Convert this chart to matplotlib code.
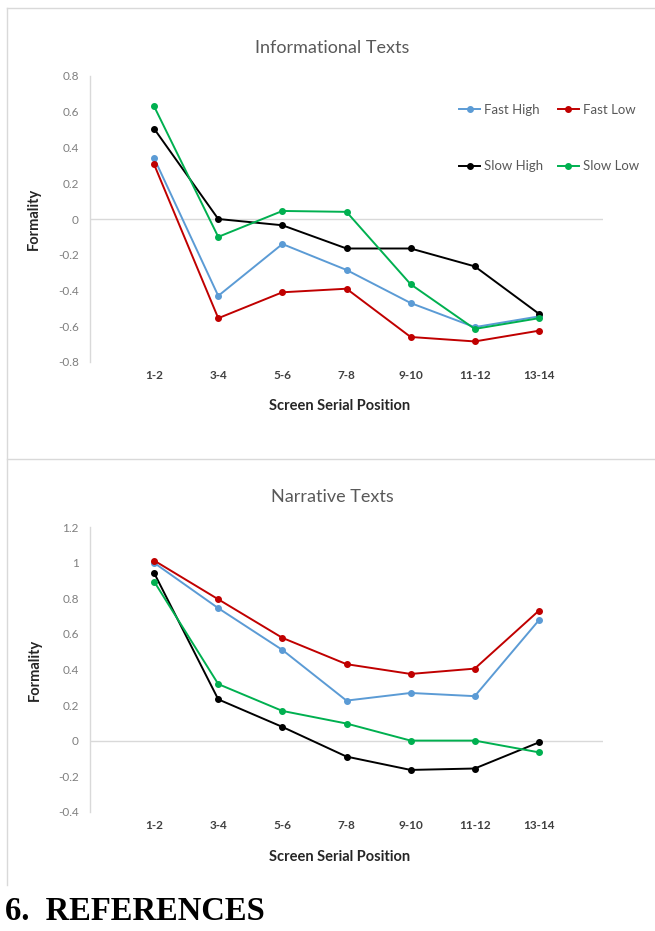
import matplotlib.pyplot as plt
from matplotlib.lines import Line2D

plt.rcParams['font.family'] = ['Lato', 'DejaVu Sans']

# Données
positions = ['1-2', '3-4', '5-6', '7-8', '9-10', '11-12', '13-14']

info_fast_high = [0.34, -0.43, -0.14, -0.285, -0.47, -0.605, -0.545]
info_fast_low = [0.305, -0.555, -0.41, -0.39, -0.66, -0.685, -0.625]
info_slow_high = [0.505, 0.0, -0.035, -0.165, -0.165, -0.265, -0.53]
info_slow_low = [0.63, -0.10, 0.045, 0.04, -0.365, -0.615, -0.555]

narr_fast_high = [1.0, 0.745, 0.51, 0.225, 0.268, 0.25, 0.677]
narr_fast_low = [1.013, 0.795, 0.578, 0.43, 0.375, 0.405, 0.731]
narr_slow_high = [0.943, 0.232, 0.077, -0.09, -0.165, -0.157, -0.01]
narr_slow_low = [0.895, 0.318, 0.167, 0.096, 0.0, 0.0, -0.066]

series_names = ['Fast High', 'Fast Low', 'Slow High', 'Slow Low']
colors = ['#5b9bd5', '#c00000', '#000000', '#00b050']

fig = plt.figure(figsize=(6.55, 9.31), dpi=100)

# cadres des deux graphiques
frame_col = '#d9d9d9'
fig.add_artist(Line2D([7/655, 7/655], [1 - 8/931, 1 - 885/931], color=frame_col, lw=1))
fig.add_artist(Line2D([7/655, 1], [1 - 8/931, 1 - 8/931], color=frame_col, lw=1))
fig.add_artist(Line2D([7/655, 1], [1 - 459/931, 1 - 459/931], color=frame_col, lw=1))


def draw_panel(ax, data, title, ylim, step, title_y, xlabel_y):
    x = list(range(1, len(positions) + 1))
    for vals, c in zip(data, colors):
        ax.plot(x, vals, color=c, lw=1.4, marker='o', markersize=4)
    ax.set_xlim(0, 8)
    ax.set_ylim(*ylim)
    ax.axhline(0, color='#d9d9d9', lw=1, zorder=0)
    for s in ['top', 'right', 'bottom']:
        ax.spines[s].set_visible(False)
    ax.spines['left'].set_color('#d9d9d9')
    ax.spines['left'].set_linewidth(1)
    ticks = []
    v = ylim[0]
    while v <= ylim[1] + 1e-9:
        ticks.append(round(v, 1))
        v += step
    ax.set_yticks(ticks)
    ax.set_yticklabels(['0' if t == 0 else ('1' if t == 1 else f'{t:g}') for t in ticks],
                       color='#7f7f7f', fontsize=8.5)
    ax.set_xticks(x)
    ax.set_xticklabels(positions, color='#404040', fontsize=8.5, fontweight='bold')
    ax.tick_params(length=0, pad=8)
    ax.tick_params(axis='x', pad=6)
    ax.set_ylabel('Formality', color='#262626', fontsize=10.5, fontweight='bold', labelpad=12)
    fig.text(332/655, 1 - title_y/931, title, ha='center', va='center',
             color='#595959', fontsize=13)
    fig.text(340/655, 1 - xlabel_y/931, 'Screen Serial Position', ha='center', va='center',
             color='#262626', fontsize=10.5, fontweight='bold')


ax1 = fig.add_axes([90/655, 1 - 362/931, 513/655, 286/931])
draw_panel(ax1, [info_fast_high, info_fast_low, info_slow_high, info_slow_low],
           'Informational Texts', (-0.8, 0.8), 0.2, 48, 406)

ax2 = fig.add_axes([90/655, 1 - 811.7/931, 513/655, 284.4/931])
draw_panel(ax2, [narr_fast_high, narr_fast_low, narr_slow_high, narr_slow_low],
           'Narrative Texts', (-0.4, 1.2), 0.2, 497, 857)

# légende du premier graphique (remplissage par colonnes)
handles = [Line2D([0], [0], color=c, lw=1.4, marker='o', markersize=4) for c in colors]
order = [0, 2, 1, 3]
fig.legend([handles[i] for i in order], [series_names[i] for i in order],
           loc='center', bbox_to_anchor=(549/655, 1 - 138/931),
           ncol=2, frameon=False, fontsize=9.5, labelcolor='#595959',
           handlelength=1.6, handletextpad=0.3, columnspacing=1.1, labelspacing=3.4)

fig.text(5/655, 1 - 911/931, '6.  REFERENCES', ha='left', va='center',
         family='Liberation Serif', fontweight='bold', fontsize=23.5, color='black')

fig.savefig('out.png', dpi=100)
